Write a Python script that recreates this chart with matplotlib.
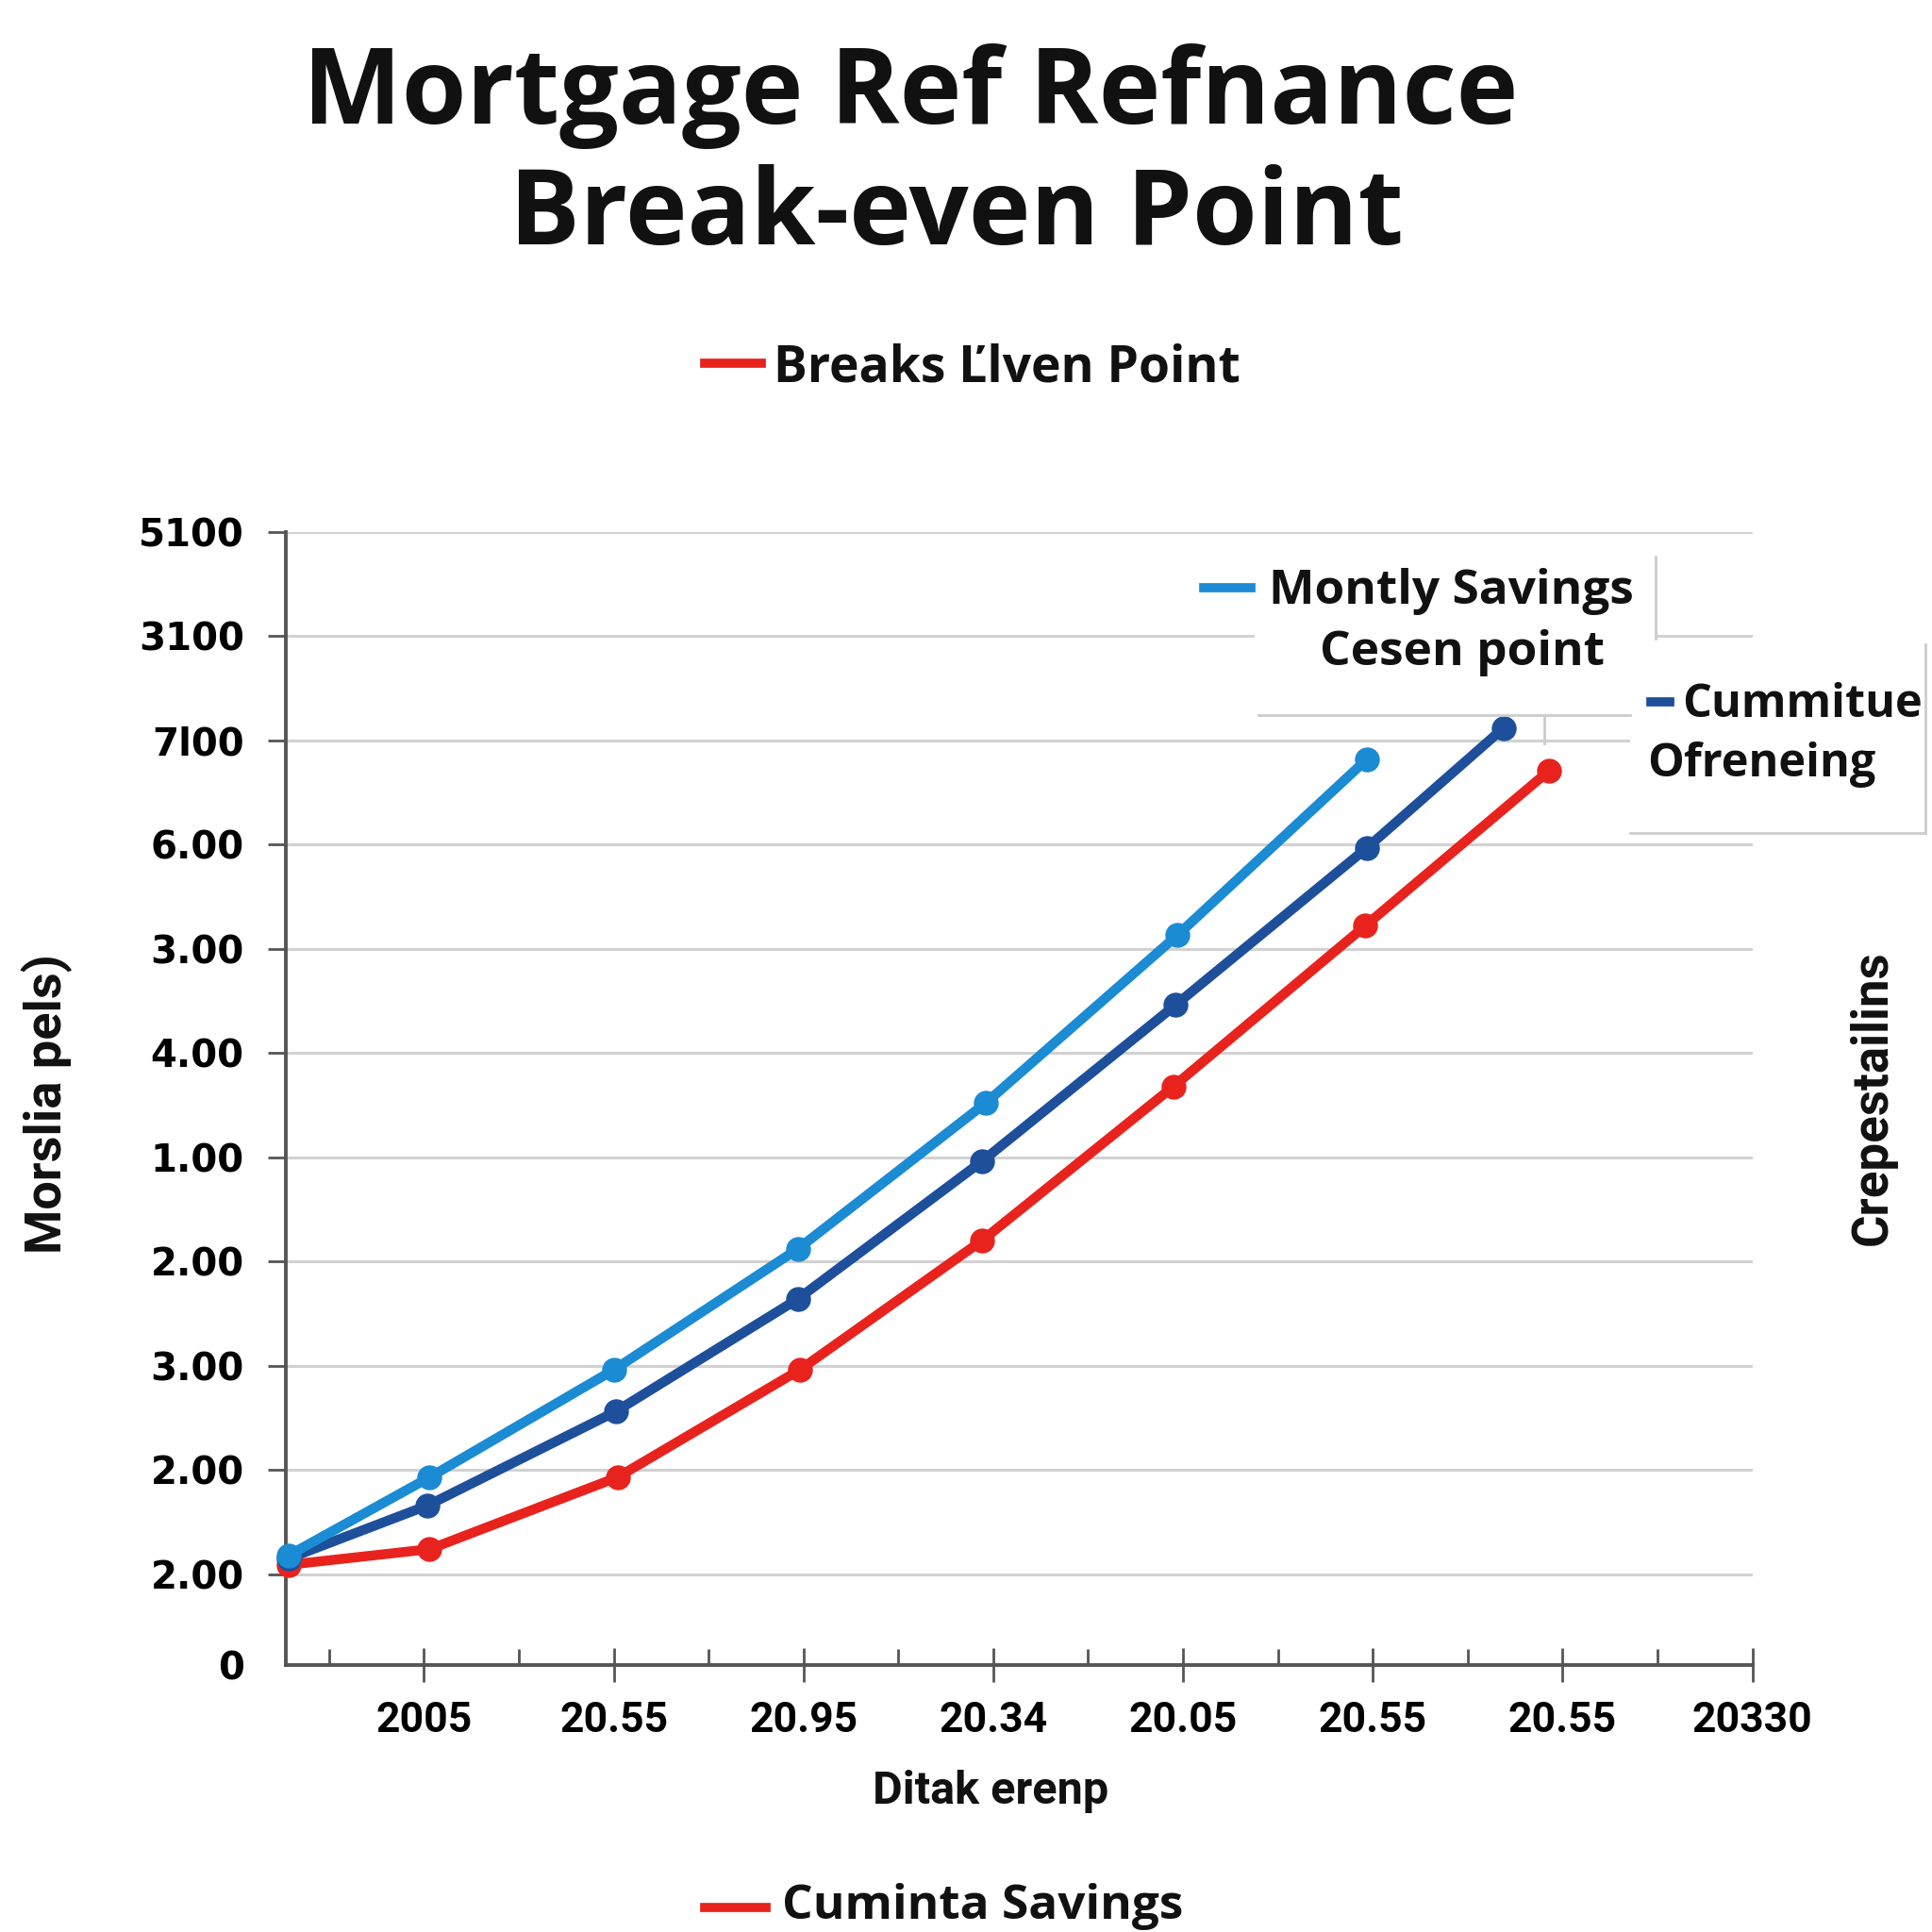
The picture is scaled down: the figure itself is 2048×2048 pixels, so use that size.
import matplotlib
matplotlib.use("Agg")
import matplotlib.pyplot as plt
from matplotlib.lines import Line2D
from matplotlib.patches import Rectangle

# ---- data ----
x_tick_pos = [1, 2, 3, 4, 5, 6, 7, 8]
x_tick_labels = ["2005", "20.55", "20.95", "20.34", "20.05", "20.55", "20.55", "20330"]
y_tick_pos = [0, 1, 2, 3, 4, 5, 6, 7, 8, 9, 10]
y_tick_labels = ["2.00", "2.00", "3.00", "2.00", "1.00", "4.00", "3.00", "6.00", "7l00", "3100", "5100"]
y_zero_pos = -0.875

monthly_x = [0.286, 1.03, 2.00, 2.97, 3.96, 4.97, 5.97]
monthly_y = [0.18, 0.93, 1.96, 3.12, 4.52, 6.13, 7.82]
cumul_x = [0.286, 1.02, 2.01, 2.97, 3.94, 4.96, 5.97, 6.69]
cumul_y = [0.15, 0.66, 1.56, 2.64, 3.96, 5.46, 6.97, 8.12]
breakeven_x = [0.286, 1.03, 2.02, 2.98, 3.94, 4.95, 5.96, 6.93]
breakeven_y = [0.09, 0.24, 0.93, 1.96, 3.20, 4.68, 6.22, 7.71]

LIGHT = "#1b8bd3"
DARK = "#1d4f9b"
RED = "#e8231e"
GRID = "#d2d2d2"
SPINE = "#555555"
TXT_FAMILY = "Open Sans"

fig = plt.figure(figsize=(20.48, 20.48), dpi=100)
ax = fig.add_axes([0.148, 0.138, 0.759, 0.5867])

ax.plot(breakeven_x, breakeven_y, "-o", color=RED, lw=7.5, ms=18,
        solid_capstyle="round", clip_on=False, zorder=3)
ax.plot(cumul_x, cumul_y, "-o", color=DARK, lw=7.5, ms=18,
        solid_capstyle="round", clip_on=False, zorder=4)
ax.plot(monthly_x, monthly_y, "-o", color=LIGHT, lw=7.5, ms=18,
        solid_capstyle="round", clip_on=False, zorder=5)

ax.set_xlim(0.2727, 8)
ax.set_ylim(y_zero_pos, 10)

ax.set_xticks(x_tick_pos)
ax.set_xticklabels(x_tick_labels, fontfamily="Roboto", fontweight="bold", fontsize=32)
ax.set_xticks([p - 0.5 for p in x_tick_pos], minor=True)
ax.tick_params(axis="x", which="major", direction="inout", length=26, width=2,
               color=SPINE, pad=14)
ax.tick_params(axis="x", which="minor", direction="in", length=12, width=2, color=SPINE)

ax.set_yticks(y_tick_pos)
ax.set_yticklabels(y_tick_labels, fontfamily="DejaVu Sans", fontweight="bold", fontsize=29)
ax.set_yticks([y_zero_pos], minor=True)
ax.set_yticklabels(["0"], minor=True, fontfamily="DejaVu Sans", fontweight="bold", fontsize=29)
ax.tick_params(axis="y", which="major", direction="out", length=14, width=2,
               color=SPINE, pad=18)
ax.tick_params(axis="y", which="minor", length=0, pad=32)

ax.grid(True, axis="y", which="major", color=GRID, lw=2.2)
ax.set_axisbelow(True)
for side in ["top", "right"]:
    ax.spines[side].set_visible(False)
for side in ["left", "bottom"]:
    ax.spines[side].set_color(SPINE)
    ax.spines[side].set_linewidth(2.8)

# ---- white legend boxes covering gridlines ----
def fx(x):
    return x / 1568.0

def fy(y):
    return 1 - y / 1568.0

box1 = Rectangle((fx(1018), fy(580)), fx(1344) - fx(1018), fy(452) - fy(580),
                 transform=fig.transFigure, facecolor="white", edgecolor="none",
                 zorder=1.5)
box2 = Rectangle((fx(1323), fy(676)), fx(1563) - fx(1323), fy(523) - fy(676),
                 transform=fig.transFigure, facecolor="white", edgecolor="none",
                 zorder=1.5)
fig.add_artist(box1)
fig.add_artist(box2)
edge_kw = dict(color="#cccccc", lw=2, transform=fig.transFigure)
fig.add_artist(Line2D([fx(1344), fx(1344)], [fy(452), fy(518)], **edge_kw))
fig.add_artist(Line2D([fx(1021), fx(1323)], [fy(580), fy(580)], **edge_kw))
fig.add_artist(Line2D([fx(1253), fx(1253)], [fy(580), fy(603)], **edge_kw))
fig.add_artist(Line2D([fx(1563), fx(1563)], [fy(523), fy(676)], **edge_kw))
fig.add_artist(Line2D([fx(1323), fx(1563)], [fy(676), fy(676)], **edge_kw))

# ---- titles ----
title_font = dict(fontfamily=TXT_FAMILY, fontweight="bold", fontsize=80, color="#111111")
fig.text(fx(739), fy(100), "Mortgage Ref Refnance", ha="center", va="baseline", **title_font)
fig.text(fx(776), fy(198), "Break-even Point", ha="center", va="baseline", **title_font)

# ---- legend entries ----
leg_font = dict(fontfamily=TXT_FAMILY, fontweight="bold", fontsize=37, color="#111111")
fig.add_artist(Line2D([fx(572), fx(618)], [fy(295), fy(295)], color=RED, lw=7,
                      transform=fig.transFigure))
fig.text(fx(628), fy(310), "Breaks Ľlven Point", ha="left", va="baseline",
         **{**leg_font, "fontsize": 38.5})

fig.add_artist(Line2D([fx(977), fx(1015)], [fy(477), fy(477)], color=LIGHT, lw=7,
                      transform=fig.transFigure, zorder=3))
fig.text(fx(1178), fy(490), "Montly Savings", ha="center", va="baseline", zorder=3, **leg_font)
fig.text(fx(1187), fy(540), "Cesen point", ha="center", va="baseline", zorder=3, **leg_font)

fig.add_artist(Line2D([fx(1340), fx(1355)], [fy(570), fy(570)], color=DARK, lw=7,
                      transform=fig.transFigure, zorder=3))
fig.text(fx(1365), fy(582), "Cummitue", ha="left", va="baseline", zorder=3,
         **{**leg_font, "fontsize": 35})
fig.text(fx(1337), fy(630), "Ofreneing", ha="left", va="baseline", zorder=3,
         **{**leg_font, "fontsize": 35})

fig.add_artist(Line2D([fx(572), fx(622)], [fy(1548), fy(1548)], color=RED, lw=7,
                      transform=fig.transFigure))
fig.text(fx(635), fy(1557), "Cuminta Savings", ha="left", va="baseline", **leg_font)

# ---- axis labels ----
lab_font = dict(fontfamily="Roboto", fontweight="bold", color="#111111")
fig.text(fx(804), fy(1464), "Ditak erenp", ha="center", va="baseline", fontsize=35, **lab_font)
fig.text(fx(38), fy(896), "Morslia pels)", ha="center", va="center", rotation=90,
         fontsize=39, **lab_font)
fig.text(fx(1520), fy(891), "Crepestailins", ha="center", va="center", rotation=90,
         fontsize=38, **lab_font)

fig.savefig("out.png", dpi=100)
